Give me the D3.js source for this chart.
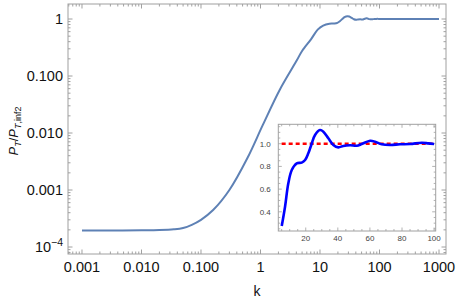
<!DOCTYPE html>
<html><head><meta charset="utf-8">
<script src="https://cdn.jsdelivr.net/npm/d3@7"></script>
<style>body{margin:0;background:#fff}svg{display:block;font-family:"Liberation Sans",Arial,sans-serif}</style>
</head><body><svg id="c" width="457" height="301"></svg>
<script>
// ---- data ----
const mainK = [0.001,0.003,0.01,0.02,0.035,0.05,0.07,0.1,0.16,0.3,0.6,1.1,2.1,4.1,5,7.1,9.15,11.3,14.4,17.5,19.6,21.6,23.7,25.8,28.9,31,34.1,37.2,40.3,43.4,47.6,51.8,54.9,60.1,63.2,67.4,72.6,78.8,85,92.3,96.4,100,150,200,300,500,700,1000];
const mainP = [1.95e-4,1.95e-4,1.96e-4,1.98e-4,2.04e-4,2.15e-4,2.45e-4,3.0e-4,4.45e-4,1.0e-3,3.6e-3,0.014,0.057,0.19,0.275,0.445,0.651,0.768,0.827,0.833,0.856,0.915,1.0,1.077,1.12,1.106,1.048,0.989,0.968,0.98,0.986,0.982,0.997,1.026,1.018,0.995,0.989,0.995,0.997,1.009,1.003,0.997,1.003,0.999,1.001,1.0,1.0,1.0];
const insetK = [5.04,7.1,9.15,11.3,14.4,17.5,19.6,21.6,23.7,25.8,28.9,31,34.1,37.2,40.3,43.4,47.6,51.8,54.9,60.1,63.2,67.4,72.6,78.8,85,92.3,96.4,100];
const insetP = [0.275,0.445,0.651,0.768,0.827,0.833,0.856,0.915,1.0,1.077,1.12,1.106,1.048,0.989,0.968,0.98,0.986,0.982,0.997,1.026,1.018,0.995,0.989,0.995,0.997,1.009,1.003,0.997];
const refK = [5,100];
const refP = [1,1];
const xTickVals = [0.001,0.01,0.1,1,10,100,1000];
const xTickLabels = ["0.001","0.010","0.100","1","10","100","1000"];
const yTickVals = [1e-4,0.001,0.01,0.1,1];
const yTickLabels = ["10^-4","0.001","0.010","0.100","1"];
const insetXTicks = [20,40,60,80,100];
const insetYTicks = [0.4,0.6,0.8,1.0];
const insetYLabels = ["0.4","0.6","0.8","1.0"];

// ---- layout ----
const svg = d3.select("#c");
const L=68,R=446,T=4,B=254;
const x = d3.scaleLog().domain([5.82e-4,1311]).range([L,R]);
const y = d3.scaleLog().domain([7.54e-5,1.833]).range([B,T]);
const frameCol="#a0a0a0";

function logMinors(dom){
  const out=[];
  const lo=Math.floor(Math.log10(dom[0])), hi=Math.ceil(Math.log10(dom[1]));
  for(let d=lo;d<=hi;d++) for(let m=2;m<=9;m++){const v=m*Math.pow(10,d); if(v>=dom[0]&&v<=dom[1]) out.push(v);}
  return out;
}
const g = svg.append("g");
g.append("rect").attr("x",L).attr("y",T).attr("width",R-L).attr("height",B-T).attr("fill","none").attr("stroke",frameCol).attr("stroke-width",1);
const xm = logMinors(x.domain());
xTickVals.forEach(v=>{const px=x(v);
  g.append("line").attr("x1",px).attr("x2",px).attr("y1",B).attr("y2",B-4.5).attr("stroke",frameCol);
  g.append("line").attr("x1",px).attr("x2",px).attr("y1",T).attr("y2",T+4.5).attr("stroke",frameCol);});
xm.forEach(v=>{const px=x(v);
  g.append("line").attr("x1",px).attr("x2",px).attr("y1",B).attr("y2",B-2.5).attr("stroke",frameCol);
  g.append("line").attr("x1",px).attr("x2",px).attr("y1",T).attr("y2",T+2.5).attr("stroke",frameCol);});
const ym = logMinors(y.domain());
yTickVals.forEach(v=>{const py=y(v);
  g.append("line").attr("y1",py).attr("y2",py).attr("x1",L).attr("x2",L+4.5).attr("stroke",frameCol);
  g.append("line").attr("y1",py).attr("y2",py).attr("x1",R).attr("x2",R-4.5).attr("stroke",frameCol);});
ym.forEach(v=>{const py=y(v);
  g.append("line").attr("y1",py).attr("y2",py).attr("x1",L).attr("x2",L+2.5).attr("stroke",frameCol);
  g.append("line").attr("y1",py).attr("y2",py).attr("x1",R).attr("x2",R-2.5).attr("stroke",frameCol);});
xTickVals.forEach((v,i)=>{
  g.append("text").attr("x",x(v)).attr("y",272).attr("text-anchor","middle").attr("font-size",14.5).attr("fill","#111").text(xTickLabels[i]);});
yTickVals.forEach((v,i)=>{
  const lab=yTickLabels[i];
  const t=g.append("text").attr("x",63).attr("y",y(v)+5).attr("text-anchor","end").attr("font-size",14.5).attr("fill","#111");
  if(lab.includes("^")){const [b,e]=lab.split("^");
    t.append("tspan").text(b); t.append("tspan").attr("dy",-6).attr("font-size",10.5).text(e.replace("-","\u2212"));}
  else t.text(lab);});
g.append("text").attr("x",(L+R)/2).attr("y",296).attr("text-anchor","middle").attr("font-size",14).attr("fill","#111").text("k");
const yt=g.append("text").attr("transform","translate(18,131) rotate(-90)").attr("text-anchor","middle").attr("font-size",13).attr("fill","#111");
yt.append("tspan").attr("font-style","italic").text("P");
yt.append("tspan").attr("font-style","italic").attr("font-size",9).attr("dy",3).text("T");
yt.append("tspan").attr("dy",-3).text("/");
yt.append("tspan").attr("font-style","italic").text("P");
yt.append("tspan").attr("font-style","italic").attr("font-size",9).attr("dy",3).text("T");
yt.append("tspan").attr("font-size",9).text(",inf2");

const mainData = mainK.map((k,i)=>[k,mainP[i]]);
g.append("path").datum(mainData).attr("fill","none").attr("stroke","#5E81B5").attr("stroke-width",2)
  .attr("d",d3.line().x(d=>x(d[0])).y(d=>y(d[1])).curve(d3.curveCatmullRom.alpha(0.5)));

// ---- inset ----
const iL=278.3,iR=435.7,iT=124.3,iB=231;
const xi = d3.scaleLinear().domain([2.9,101]).range([iL,iR]);
const yi = d3.scaleLinear().domain([0.231,1.171]).range([iB,iT]);
const ig = svg.append("g");
ig.append("rect").attr("x",iL).attr("y",iT).attr("width",iR-iL).attr("height",iB-iT).attr("fill","#fff").attr("stroke",frameCol).attr("stroke-width",1);
const ixMinor = d3.range(5,101,5), iyMinor = d3.range(0.25,1.16,0.05);
ixMinor.forEach(v=>{const px=xi(v), len = insetXTicks.includes(v)?3.5:2;
  ig.append("line").attr("x1",px).attr("x2",px).attr("y1",iB).attr("y2",iB-len).attr("stroke",frameCol).attr("stroke-width",0.8);
  ig.append("line").attr("x1",px).attr("x2",px).attr("y1",iT).attr("y2",iT+len).attr("stroke",frameCol).attr("stroke-width",0.8);});
iyMinor.forEach(v=>{const py=yi(v), len = insetYTicks.some(t=>Math.abs(t-v)<1e-6)?3.5:2;
  ig.append("line").attr("y1",py).attr("y2",py).attr("x1",iL).attr("x2",iL+len).attr("stroke",frameCol).attr("stroke-width",0.8);
  ig.append("line").attr("y1",py).attr("y2",py).attr("x1",iR).attr("x2",iR-len).attr("stroke",frameCol).attr("stroke-width",0.8);});
insetXTicks.forEach(v=>{
  ig.append("text").attr("x",xi(v)).attr("y",iB+10).attr("text-anchor","middle").attr("font-size",8).attr("fill","#444").text(v);});
insetYTicks.forEach((v,i)=>{
  ig.append("text").attr("x",iL-7.5).attr("y",yi(v)+3).attr("text-anchor","end").attr("font-size",8).attr("fill","#444").text(insetYLabels[i]);});
ig.append("path").datum(refK.map((k,i)=>[k,refP[i]])).attr("fill","none").attr("stroke","#ff0000").attr("stroke-width",2.6).attr("stroke-dasharray","4,3")
  .attr("d",d3.line().x(d=>xi(d[0])).y(d=>yi(d[1])));
ig.append("path").datum(insetK.map((k,i)=>[k,insetP[i]])).attr("fill","none").attr("stroke","#0000ff").attr("stroke-width",2.6)
  .attr("d",d3.line().x(d=>xi(d[0])).y(d=>yi(d[1])).curve(d3.curveCatmullRom.alpha(0.5)));
</script></body></html>
